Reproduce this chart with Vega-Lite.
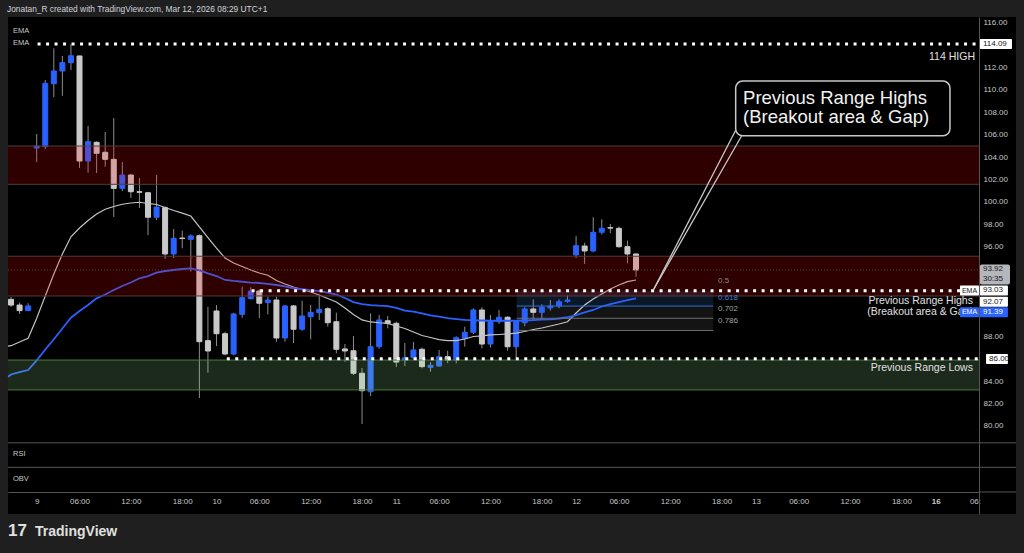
{
  "$schema": "https://vega.github.io/schema/vega-lite/v6.json",
  "width": 971,
  "height": 497,
  "autosize": {"type": "none"},
  "padding": {"left": 8, "top": 17, "right": 45, "bottom": 39},
  "background": "#1f1f1f",
  "config": {"view": {"fill": "#000000", "stroke": null}, "font": "Liberation Sans", "text": {"font": "Liberation Sans"}},
  "resolve": {"scale": {"color": "independent"}},
  "datasets": {
    "candles": [
      {"i": -3, "o": 91.30, "h": 91.51, "l": 90.62, "c": 90.79},
      {"i": -2, "o": 90.79, "h": 91.02, "l": 89.99, "c": 90.29},
      {"i": -1, "o": 90.29, "h": 90.95, "l": 90.25, "c": 90.71},
      {"i": 0, "o": 104.81, "h": 106.06, "l": 103.57, "c": 104.99},
      {"i": 1, "o": 104.93, "h": 110.88, "l": 104.72, "c": 110.59},
      {"i": 2, "o": 110.55, "h": 113.71, "l": 109.34, "c": 111.69},
      {"i": 3, "o": 111.69, "h": 113.03, "l": 109.48, "c": 112.43},
      {"i": 4, "o": 112.43, "h": 114.09, "l": 111.78, "c": 113.05},
      {"i": 5, "o": 113.03, "h": 113.05, "l": 103.03, "c": 103.65},
      {"i": 6, "o": 103.65, "h": 106.78, "l": 102.61, "c": 105.38},
      {"i": 7, "o": 105.32, "h": 105.40, "l": 102.58, "c": 104.34},
      {"i": 8, "o": 104.43, "h": 106.24, "l": 103.14, "c": 103.80},
      {"i": 9, "o": 103.80, "h": 107.49, "l": 98.65, "c": 101.21},
      {"i": 10, "o": 101.21, "h": 103.56, "l": 100.97, "c": 102.40},
      {"i": 11, "o": 102.40, "h": 102.50, "l": 100.35, "c": 100.91},
      {"i": 12, "o": 100.91, "h": 102.13, "l": 99.46, "c": 100.86},
      {"i": 13, "o": 100.82, "h": 100.90, "l": 97.04, "c": 98.63},
      {"i": 14, "o": 98.63, "h": 102.40, "l": 98.38, "c": 99.54},
      {"i": 15, "o": 99.48, "h": 99.60, "l": 94.90, "c": 95.35},
      {"i": 16, "o": 95.35, "h": 97.58, "l": 94.99, "c": 96.75},
      {"i": 17, "o": 96.77, "h": 97.43, "l": 95.86, "c": 96.73},
      {"i": 18, "o": 96.66, "h": 97.10, "l": 93.77, "c": 96.96},
      {"i": 19, "o": 96.98, "h": 97.10, "l": 82.49, "c": 87.52},
      {"i": 20, "o": 87.61, "h": 90.64, "l": 84.75, "c": 86.69},
      {"i": 21, "o": 90.26, "h": 90.79, "l": 87.13, "c": 88.23},
      {"i": 22, "o": 88.23, "h": 88.40, "l": 86.30, "c": 86.42},
      {"i": 23, "o": 86.42, "h": 90.10, "l": 86.30, "c": 89.99},
      {"i": 24, "o": 89.96, "h": 92.43, "l": 89.66, "c": 91.45},
      {"i": 25, "o": 91.36, "h": 92.38, "l": 91.30, "c": 92.04},
      {"i": 26, "o": 92.04, "h": 92.20, "l": 89.63, "c": 90.95},
      {"i": 27, "o": 91.00, "h": 91.54, "l": 89.96, "c": 91.24},
      {"i": 28, "o": 91.24, "h": 91.54, "l": 87.52, "c": 87.85},
      {"i": 29, "o": 87.85, "h": 90.80, "l": 87.52, "c": 90.71},
      {"i": 30, "o": 90.71, "h": 90.80, "l": 87.40, "c": 88.63},
      {"i": 31, "o": 88.63, "h": 91.18, "l": 88.50, "c": 89.81},
      {"i": 32, "o": 89.75, "h": 90.79, "l": 87.73, "c": 90.14},
      {"i": 33, "o": 90.11, "h": 91.69, "l": 89.46, "c": 90.41},
      {"i": 34, "o": 90.46, "h": 90.60, "l": 88.86, "c": 89.21},
      {"i": 35, "o": 89.30, "h": 90.11, "l": 86.48, "c": 86.84},
      {"i": 36, "o": 86.87, "h": 87.31, "l": 85.73, "c": 86.69},
      {"i": 37, "o": 86.71, "h": 88.03, "l": 84.54, "c": 84.70},
      {"i": 38, "o": 84.70, "h": 85.17, "l": 80.17, "c": 83.14},
      {"i": 39, "o": 83.05, "h": 90.05, "l": 82.67, "c": 87.07},
      {"i": 40, "o": 87.07, "h": 89.90, "l": 86.90, "c": 89.46},
      {"i": 41, "o": 89.39, "h": 89.81, "l": 88.71, "c": 89.16},
      {"i": 42, "o": 89.16, "h": 89.30, "l": 85.26, "c": 85.70},
      {"i": 43, "o": 85.88, "h": 87.40, "l": 85.35, "c": 86.09},
      {"i": 44, "o": 86.09, "h": 87.49, "l": 85.90, "c": 86.78},
      {"i": 45, "o": 86.84, "h": 87.00, "l": 85.15, "c": 85.29},
      {"i": 46, "o": 85.23, "h": 85.70, "l": 84.84, "c": 85.41},
      {"i": 47, "o": 85.35, "h": 86.78, "l": 85.30, "c": 86.18},
      {"i": 48, "o": 86.18, "h": 86.70, "l": 85.60, "c": 85.88},
      {"i": 49, "o": 85.88, "h": 88.00, "l": 85.59, "c": 87.88},
      {"i": 50, "o": 87.82, "h": 88.86, "l": 87.07, "c": 88.36},
      {"i": 51, "o": 88.36, "h": 90.50, "l": 88.20, "c": 90.35},
      {"i": 52, "o": 90.35, "h": 90.60, "l": 86.93, "c": 87.31},
      {"i": 53, "o": 87.31, "h": 89.90, "l": 87.00, "c": 89.30},
      {"i": 54, "o": 89.30, "h": 90.35, "l": 89.10, "c": 89.70},
      {"i": 55, "o": 89.70, "h": 89.80, "l": 86.71, "c": 87.07},
      {"i": 56, "o": 87.07, "h": 89.40, "l": 86.06, "c": 89.30},
      {"i": 57, "o": 89.21, "h": 90.59, "l": 88.90, "c": 90.44},
      {"i": 58, "o": 90.44, "h": 91.30, "l": 89.46, "c": 90.14},
      {"i": 59, "o": 90.14, "h": 90.86, "l": 89.46, "c": 90.59},
      {"i": 60, "o": 90.53, "h": 91.24, "l": 90.30, "c": 90.71},
      {"i": 61, "o": 90.71, "h": 91.30, "l": 90.50, "c": 91.09},
      {"i": 62, "o": 91.12, "h": 91.66, "l": 91.00, "c": 91.24},
      {"i": 63, "o": 95.26, "h": 96.96, "l": 95.00, "c": 96.09},
      {"i": 64, "o": 96.06, "h": 96.36, "l": 94.46, "c": 95.62},
      {"i": 65, "o": 95.62, "h": 98.63, "l": 95.50, "c": 97.29},
      {"i": 66, "o": 97.29, "h": 98.45, "l": 97.10, "c": 97.64},
      {"i": 67, "o": 97.70, "h": 98.03, "l": 97.20, "c": 97.66},
      {"i": 68, "o": 97.64, "h": 97.80, "l": 95.90, "c": 96.00},
      {"i": 69, "o": 96.00, "h": 96.54, "l": 94.52, "c": 95.35},
      {"i": 70, "o": 95.35, "h": 95.40, "l": 93.32, "c": 93.92}
    ],
    "ema20": [
      {"i": -3.35, "p": 87.12}, {"i": -3, "p": 87.16}, {"i": -2, "p": 87.49}, {"i": -1, "p": 87.82},
      {"i": 0, "p": 89.61}, {"i": 1, "p": 91.60}, {"i": 2, "p": 93.56}, {"i": 3, "p": 95.35}, {"i": 4, "p": 96.89},
      {"i": 5, "p": 97.67}, {"i": 6, "p": 98.34}, {"i": 7, "p": 98.92}, {"i": 8, "p": 99.34}, {"i": 9, "p": 99.59},
      {"i": 10, "p": 99.79}, {"i": 11, "p": 99.90}, {"i": 12, "p": 99.97}, {"i": 13, "p": 99.86}, {"i": 14, "p": 99.77},
      {"i": 15, "p": 99.50}, {"i": 16, "p": 99.23}, {"i": 17, "p": 99.00}, {"i": 18, "p": 98.74}, {"i": 19, "p": 97.76},
      {"i": 20, "p": 96.82}, {"i": 21, "p": 95.88}, {"i": 22, "p": 94.99}, {"i": 23, "p": 94.54}, {"i": 24, "p": 94.23},
      {"i": 25, "p": 93.92}, {"i": 26, "p": 93.65}, {"i": 27, "p": 93.45}, {"i": 28, "p": 92.98}, {"i": 29, "p": 92.67},
      {"i": 30, "p": 92.40}, {"i": 31, "p": 92.18}, {"i": 32, "p": 91.96}, {"i": 33, "p": 91.69}, {"i": 34, "p": 91.38},
      {"i": 35, "p": 91.06}, {"i": 36, "p": 90.53}, {"i": 37, "p": 89.95}, {"i": 38, "p": 89.46}, {"i": 39, "p": 89.28},
      {"i": 40, "p": 89.21}, {"i": 41, "p": 89.16}, {"i": 42, "p": 88.92}, {"i": 43, "p": 88.70}, {"i": 44, "p": 88.38},
      {"i": 45, "p": 88.07}, {"i": 46, "p": 87.89}, {"i": 47, "p": 87.71}, {"i": 48, "p": 87.61}, {"i": 49, "p": 87.61},
      {"i": 50, "p": 87.76}, {"i": 51, "p": 87.98}, {"i": 52, "p": 88.03}, {"i": 53, "p": 88.12}, {"i": 54, "p": 88.16},
      {"i": 55, "p": 88.21}, {"i": 56, "p": 88.29}, {"i": 57, "p": 88.43}, {"i": 58, "p": 88.61}, {"i": 59, "p": 88.74},
      {"i": 60, "p": 88.92}, {"i": 61, "p": 89.10}, {"i": 62, "p": 89.30}, {"i": 63, "p": 90.08}, {"i": 64, "p": 90.79},
      {"i": 65, "p": 91.33}, {"i": 66, "p": 91.78}, {"i": 67, "p": 92.22}, {"i": 68, "p": 92.58}, {"i": 69, "p": 92.88},
      {"i": 70, "p": 93.03}
    ],
    "ema50": [
      {"i": -3.35, "p": 84.39}, {"i": -3, "p": 84.59}, {"i": -2, "p": 84.81}, {"i": -1, "p": 84.99},
      {"i": 0, "p": 85.85}, {"i": 1, "p": 86.82}, {"i": 2, "p": 87.74}, {"i": 3, "p": 88.70}, {"i": 4, "p": 89.66},
      {"i": 5, "p": 90.26}, {"i": 6, "p": 90.79}, {"i": 7, "p": 91.39}, {"i": 8, "p": 91.73}, {"i": 9, "p": 92.13},
      {"i": 10, "p": 92.49}, {"i": 11, "p": 92.80}, {"i": 12, "p": 93.18}, {"i": 13, "p": 93.38}, {"i": 14, "p": 93.68},
      {"i": 15, "p": 93.83}, {"i": 16, "p": 93.92}, {"i": 17, "p": 94.01}, {"i": 18, "p": 94.07}, {"i": 19, "p": 93.88},
      {"i": 20, "p": 93.61}, {"i": 21, "p": 93.38}, {"i": 22, "p": 93.03}, {"i": 23, "p": 92.94}, {"i": 24, "p": 92.87},
      {"i": 25, "p": 92.80}, {"i": 26, "p": 92.76}, {"i": 27, "p": 92.69}, {"i": 28, "p": 92.58}, {"i": 29, "p": 92.45},
      {"i": 30, "p": 92.29}, {"i": 31, "p": 92.20}, {"i": 32, "p": 92.12}, {"i": 33, "p": 92.04}, {"i": 34, "p": 91.91},
      {"i": 35, "p": 91.73}, {"i": 36, "p": 91.42}, {"i": 37, "p": 91.06}, {"i": 38, "p": 90.88}, {"i": 39, "p": 90.79},
      {"i": 40, "p": 90.73}, {"i": 41, "p": 90.69}, {"i": 42, "p": 90.53}, {"i": 43, "p": 90.30}, {"i": 44, "p": 90.20},
      {"i": 45, "p": 90.04}, {"i": 46, "p": 89.86}, {"i": 47, "p": 89.75}, {"i": 48, "p": 89.63}, {"i": 49, "p": 89.54},
      {"i": 50, "p": 89.46}, {"i": 51, "p": 89.43}, {"i": 52, "p": 89.41}, {"i": 53, "p": 89.39}, {"i": 54, "p": 89.39},
      {"i": 55, "p": 89.39}, {"i": 56, "p": 89.39}, {"i": 57, "p": 89.41}, {"i": 58, "p": 89.44}, {"i": 59, "p": 89.48},
      {"i": 60, "p": 89.52}, {"i": 61, "p": 89.59}, {"i": 62, "p": 89.70}, {"i": 63, "p": 89.90}, {"i": 64, "p": 90.13},
      {"i": 65, "p": 90.35}, {"i": 66, "p": 90.66}, {"i": 67, "p": 90.88}, {"i": 68, "p": 91.06}, {"i": 69, "p": 91.24},
      {"i": 70, "p": 91.39}
    ],
    "axisbg": [{"i": 110.06, "i2": 114.38, "p": 116.509, "p2": 72.134}],
    "fibbands": [
      {"i": 56.06, "i2": 79.02, "p": 92.04, "p2": 90.70, "band": "a"},
      {"i": 56.06, "i2": 79.02, "p": 90.70, "p2": 89.61, "band": "b"},
      {"i": 56.06, "i2": 79.02, "p": 89.61, "p2": 88.52, "band": "c"}
    ],
    "fiblines": [
      {"i": 56.06, "i2": 79.02, "p": 90.70, "lvl": "0.618"},
      {"i": 56.06, "i2": 79.02, "p": 89.61, "lvl": "0.702"},
      {"i": 56.06, "i2": 79.02, "p": 88.52, "lvl": "0.786"}
    ],
    "fiblabels": [
      {"i": 79.57, "p": 92.96, "t": "0.5"},
      {"i": 79.57, "p": 91.46, "t": "0.618"},
      {"i": 79.57, "p": 90.41, "t": "0.702"},
      {"i": 79.57, "p": 89.39, "t": "0.786"}
    ],
    "zones": [
      {"i": -3.352, "i2": 110.06, "p": 104.99, "p2": 101.57, "z": "red"},
      {"i": -3.352, "i2": 110.06, "p": 95.15, "p2": 91.60, "z": "red"},
      {"i": -3.352, "i2": 110.06, "p": 85.88, "p2": 83.21, "z": "green"}
    ],
    "zoneedges": [
      {"i": -3.352, "i2": 110.06, "p": 104.99, "z": "red"},
      {"i": -3.352, "i2": 110.06, "p": 101.57, "z": "red"},
      {"i": -3.352, "i2": 110.06, "p": 95.15, "z": "red"},
      {"i": -3.352, "i2": 110.06, "p": 91.60, "z": "red"},
      {"i": -3.352, "i2": 110.06, "p": 85.88, "z": "green"},
      {"i": -3.352, "i2": 110.06, "p": 83.21, "z": "green"}
    ],
    "lastline": [{"i": -3.352, "i2": 110.06, "p": 93.92}],
    "levels": [
      {"i": 0.1, "i2": 110.06, "p": 114.09},
      {"i": 25.1, "i2": 110.06, "p": 92.07},
      {"i": 22.2, "i2": 110.06, "p": 86.0}
    ],
    "notes": [
      {"i": 109.59, "p": 112.94, "t": "114 HIGH"},
      {"i": 109.35, "p": 91.18, "t": "Previous Range Highs"},
      {"i": 109.35, "p": 90.20, "t": "(Breakout area & Gap)"},
      {"i": 109.35, "p": 85.14, "t": "Previous Range Lows"}
    ],
    "pointer": [
      {"i": 81.76, "p": 106.57, "seg": "a"}, {"i": 72.02, "p": 92.13, "seg": "a"},
      {"i": 82.34, "p": 105.91, "seg": "b"}, {"i": 72.02, "p": 92.13, "seg": "b"}
    ],
    "callout": [{"i": 81.64, "i2": 106.67, "p": 110.79, "p2": 105.91}],
    "callouttext": [
      {"i": 82.5, "p": 109.32, "t": "Previous Range Highs"},
      {"i": 82.5, "p": 107.54, "t": "(Breakout area & Gap)"}
    ],
    "panes": [
      {"i": -3.352, "i2": 114.38, "p": 78.49},
      {"i": -3.352, "i2": 114.38, "p": 76.30},
      {"i": 110.06, "i2": 114.38, "p": 74.10}
    ],
    "panelabels": [
      {"i": -2.77, "p": 115.26, "t": "EMA"},
      {"i": -2.77, "p": 114.19, "t": "EMA"},
      {"i": -2.77, "p": 77.49, "t": "RSI"},
      {"i": -2.77, "p": 75.26, "t": "OBV"}
    ],
    "header": [{"i": -3.47, "p": 117.23, "t": "Jonatan_R created with TradingView.com, Mar 12, 2026 08:29 UTC+1"}],
    "whitetags": [
      {"i": 110.17, "i2": 113.91, "p": 114.09, "t": "114.09"},
      {"i": 110.17, "i2": 113.44, "p": 92.09, "t": "93.03"},
      {"i": 110.17, "i2": 113.44, "p": 91.09, "t": "92.07"},
      {"i": 110.88, "i2": 113.44, "p": 85.97, "t": "86.00"}
    ],
    "greytag": [{"i": 110.17, "i2": 113.68, "p": 93.52}],
    "greytagtext": [
      {"i": 110.52, "p": 94.01, "t": "93.92"},
      {"i": 110.52, "p": 93.12, "t": "30:35"}
    ],
    "bluetag": [{"i": 110.17, "i2": 113.44, "p": 90.15, "t": "91.39"}],
    "ematagwhite": [{"i": 107.84, "i2": 110.06, "p": 92.08, "t": "EMA"}],
    "ematagblue": [{"i": 107.84, "i2": 110.06, "p": 90.14, "t": "EMA"}],
    "logo": [{"i": -3.352, "p": 70.62, "t": "17"}],
    "brand": [{"i": -0.2, "p": 70.53, "t": "TradingView"}],
    "cut": [{"i": 109.0, "p": 73.2, "t": "06:"}]
  },
  "encoding": {
    "x": {
      "field": "i", "type": "quantitative", "title": null,
      "scale": {"domain": [-3.352, 110.06], "nice": false, "zero": false, "padding": 0},
      "axis": {
        "orient": "bottom", "offset": -22, "title": null, "zindex": 1,
        "values": [0, 5, 11, 17, 21, 26, 32, 38, 42, 47, 53, 59, 63, 68, 74, 80, 84, 89, 95, 101, 105],
        "labelExpr": "datum.value % 21 == 5 ? '06:00' : datum.value % 21 == 11 ? '12:00' : datum.value % 21 == 17 ? '18:00' : ['9','10','11','12','13','16'][floor(datum.value / 21)]",
        "ticks": false, "tickSize": 0, "labelPadding": 5, "labelFontSize": 8, "labelColor": "#c8c8c8",
        "labelFont": "Liberation Sans", "domainColor": "#555555", "domainWidth": 1, "grid": false,
        "labelFlush": false, "labelOverlap": false, "labelBound": false,
        "labelFontWeight": {"condition": {"test": "datum.value == 105", "value": "bold"}, "value": "normal"}
      }
    },
    "y": {
      "field": "p", "type": "quantitative", "title": null,
      "scale": {"domain": [72.134, 116.509], "nice": false, "zero": false, "padding": 0},
      "axis": {
        "orient": "right", "title": null, "zindex": 1,
        "values": [80, 82, 84, 88, 96, 98, 100, 102, 104, 106, 108, 110, 112, 116],
        "format": ".2f", "ticks": false, "tickSize": 0, "labelPadding": 4, "labelAlign": "left",
        "labelBaseline": "middle", "labelFontSize": 8, "labelColor": "#c8c8c8", "labelFont": "Liberation Sans",
        "domainColor": "#555555", "domainWidth": 1, "grid": false, "labelOverlap": false
      }
    }
  },
  "layer": [
    {
      "data": {"name": "axisbg"},
      "mark": {"type": "rect", "fill": "#000000"},
      "encoding": {"x2": {"field": "i2"}, "y2": {"field": "p2"}}
    },
    {
      "data": {"name": "fibbands"},
      "mark": {"type": "rect"},
      "encoding": {
        "x2": {"field": "i2"}, "y2": {"field": "p2"},
        "color": {"field": "band", "type": "nominal", "legend": null, "scale": {"domain": ["a", "b", "c"], "range": ["#0b1828", "#141414", "#141414"]}}
      }
    },
    {
      "data": {"name": "candles"},
      "mark": {"type": "rule", "strokeWidth": 1, "color": "#8e8e8e"},
      "encoding": {
        "y": {
          "field": "l", "type": "quantitative", "title": null,
          "scale": {"domain": [72.134, 116.509], "nice": false, "zero": false, "padding": 0},
          "axis": {
            "orient": "right", "title": null, "zindex": 1,
            "values": [80, 82, 84, 88, 96, 98, 100, 102, 104, 106, 108, 110, 112, 116],
            "format": ".2f", "ticks": false, "tickSize": 0, "labelPadding": 4, "labelAlign": "left",
            "labelBaseline": "middle", "labelFontSize": 8, "labelColor": "#c8c8c8", "labelFont": "Liberation Sans",
            "domainColor": "#555555", "domainWidth": 1, "grid": false, "labelOverlap": false
          }
        },
        "y2": {"field": "h"}
      }
    },
    {
      "data": {"name": "candles"},
      "mark": {"type": "bar", "size": 5, "strokeWidth": 1},
      "encoding": {
        "y": {
          "field": "o", "type": "quantitative", "title": null,
          "scale": {"domain": [72.134, 116.509], "nice": false, "zero": false, "padding": 0},
          "axis": {
            "orient": "right", "title": null, "zindex": 1,
            "values": [80, 82, 84, 88, 96, 98, 100, 102, 104, 106, 108, 110, 112, 116],
            "format": ".2f", "ticks": false, "tickSize": 0, "labelPadding": 4, "labelAlign": "left",
            "labelBaseline": "middle", "labelFontSize": 8, "labelColor": "#c8c8c8", "labelFont": "Liberation Sans",
            "domainColor": "#555555", "domainWidth": 1, "grid": false, "labelOverlap": false
          }
        },
        "y2": {"field": "c"},
        "color": {"condition": {"test": "datum.c >= datum.o", "value": "#2962ff"}, "value": "#c9c9c9"},
        "stroke": {"condition": {"test": "datum.c >= datum.o", "value": "#2962ff"}, "value": "#c9c9c9"}
      }
    },
    {
      "data": {"name": "ema20"},
      "mark": {"type": "line", "color": "#c4c4c4", "strokeWidth": 1.2},
      "encoding": {}
    },
    {
      "data": {"name": "ema50"},
      "mark": {"type": "line", "color": "#2962ff", "strokeWidth": 1.8},
      "encoding": {}
    },
    {
      "data": {"name": "zones"},
      "mark": {"type": "rect", "opacity": 0.18},
      "encoding": {
        "x2": {"field": "i2"}, "y2": {"field": "p2"},
        "color": {"field": "z", "type": "nominal", "legend": null, "scale": {"domain": ["red", "green"], "range": ["#ff0000", "#9be99b"]}}
      }
    },
    {
      "data": {"name": "zoneedges"},
      "mark": {"type": "rule", "strokeWidth": 1},
      "encoding": {
        "x2": {"field": "i2"},
        "color": {"field": "z", "type": "nominal", "legend": null, "scale": {"domain": ["red", "green"], "range": ["#553a3a", "#4e7a3c"]}}
      }
    },
    {
      "data": {"name": "lastline"},
      "mark": {"type": "rule", "strokeWidth": 1, "color": "#7a3434", "strokeDash": [1, 2]},
      "encoding": {"x2": {"field": "i2"}}
    },
    {
      "data": {"name": "fiblines"},
      "mark": {"type": "rule", "strokeWidth": 1},
      "encoding": {
        "x2": {"field": "i2"},
        "color": {"field": "lvl", "type": "nominal", "legend": null, "scale": {"domain": ["0.618", "0.702", "0.786"], "range": ["#2f6fcf", "#6e6e6e", "#6e6e6e"]}}
      }
    },
    {
      "data": {"name": "fiblabels"},
      "mark": {"type": "text", "align": "left", "baseline": "middle", "fontSize": 8},
      "encoding": {
        "text": {"field": "t"},
        "color": {"field": "t", "type": "nominal", "legend": null, "scale": {"domain": ["0.5", "0.618", "0.702", "0.786"], "range": ["#8f8585", "#3c7fd8", "#a0a0a0", "#a0a0a0"]}}
      }
    },
    {
      "data": {"name": "levels"},
      "mark": {"type": "rule", "strokeWidth": 3, "color": "#ffffff", "strokeDash": [3, 5.5]},
      "encoding": {"x2": {"field": "i2"}}
    },
    {
      "data": {"name": "notes"},
      "mark": {"type": "text", "align": "right", "baseline": "middle", "fontSize": 10.5, "color": "#e0e0e0"},
      "encoding": {"text": {"field": "t"}}
    },
    {
      "data": {"name": "pointer"},
      "mark": {"type": "line", "color": "#c8c8c8", "strokeWidth": 1.3},
      "encoding": {"detail": {"field": "seg"}}
    },
    {
      "data": {"name": "callout"},
      "mark": {"type": "rect", "fill": "#000000", "stroke": "#c8c8c8", "strokeWidth": 1.5, "cornerRadius": 7},
      "encoding": {"x2": {"field": "i2"}, "y2": {"field": "p2"}}
    },
    {
      "data": {"name": "callouttext"},
      "mark": {"type": "text", "align": "left", "baseline": "middle", "fontSize": 18.5, "color": "#f2f2f2"},
      "encoding": {"text": {"field": "t"}}
    },
    {
      "data": {"name": "panes"},
      "mark": {"type": "rule", "strokeWidth": 1, "color": "#555555"},
      "encoding": {"x2": {"field": "i2"}}
    },
    {
      "data": {"name": "panelabels"},
      "mark": {"type": "text", "align": "left", "baseline": "middle", "fontSize": 7.5, "color": "#c8c8c8"},
      "encoding": {"text": {"field": "t"}}
    },
    {
      "data": {"name": "header"},
      "mark": {"type": "text", "align": "left", "baseline": "middle", "fontSize": 8.4, "color": "#d1d4dc"},
      "encoding": {"text": {"field": "t"}}
    },
    {
      "data": {"name": "ematagwhite"},
      "mark": {"type": "bar", "orient": "horizontal", "size": 10, "color": "#ffffff", "cornerRadius": 1},
      "encoding": {"x2": {"field": "i2"}}
    },
    {
      "data": {"name": "ematagblue"},
      "mark": {"type": "bar", "orient": "horizontal", "size": 10, "color": "#2962ff", "cornerRadius": 1},
      "encoding": {"x2": {"field": "i2"}}
    },
    {
      "data": {"name": "ematagwhite"},
      "mark": {"type": "text", "align": "center", "baseline": "middle", "fontSize": 7, "color": "#131722", "dx": 9.5},
      "encoding": {"text": {"field": "t"}}
    },
    {
      "data": {"name": "ematagblue"},
      "mark": {"type": "text", "align": "center", "baseline": "middle", "fontSize": 7, "color": "#ffffff", "dx": 9.5},
      "encoding": {"text": {"field": "t"}}
    },
    {
      "data": {"name": "greytag"},
      "mark": {"type": "bar", "orient": "horizontal", "size": 20, "color": "#b4b6bc", "cornerRadius": 2},
      "encoding": {"x2": {"field": "i2"}}
    },
    {
      "data": {"name": "greytagtext"},
      "mark": {"type": "text", "align": "left", "baseline": "middle", "fontSize": 8, "color": "#131722"},
      "encoding": {"text": {"field": "t"}}
    },
    {
      "data": {"name": "whitetags"},
      "mark": {"type": "bar", "orient": "horizontal", "size": 10, "color": "#ffffff", "cornerRadius": 1},
      "encoding": {"x2": {"field": "i2"}}
    },
    {
      "data": {"name": "whitetags"},
      "mark": {"type": "text", "align": "left", "baseline": "middle", "fontSize": 8, "color": "#131722", "dx": 3},
      "encoding": {"text": {"field": "t"}}
    },
    {
      "data": {"name": "bluetag"},
      "mark": {"type": "bar", "orient": "horizontal", "size": 10, "color": "#2962ff", "cornerRadius": 1},
      "encoding": {"x2": {"field": "i2"}}
    },
    {
      "data": {"name": "bluetag"},
      "mark": {"type": "text", "align": "left", "baseline": "middle", "fontSize": 8, "color": "#ffffff", "dx": 3},
      "encoding": {"text": {"field": "t"}}
    },
    {
      "data": {"name": "logo"},
      "mark": {"type": "text", "align": "left", "baseline": "middle", "fontSize": 17, "fontWeight": 900, "color": "#e0e0e0"},
      "encoding": {"text": {"field": "t"}}
    },
    {
      "data": {"name": "brand"},
      "mark": {"type": "text", "align": "left", "baseline": "middle", "fontSize": 14, "fontWeight": "bold", "color": "#e0e0e0"},
      "encoding": {"text": {"field": "t"}}
    },
    {
      "data": {"name": "cut"},
      "mark": {"type": "text", "align": "left", "baseline": "middle", "fontSize": 8, "color": "#c8c8c8"},
      "encoding": {"text": {"field": "t"}}
    }
  ]
}
